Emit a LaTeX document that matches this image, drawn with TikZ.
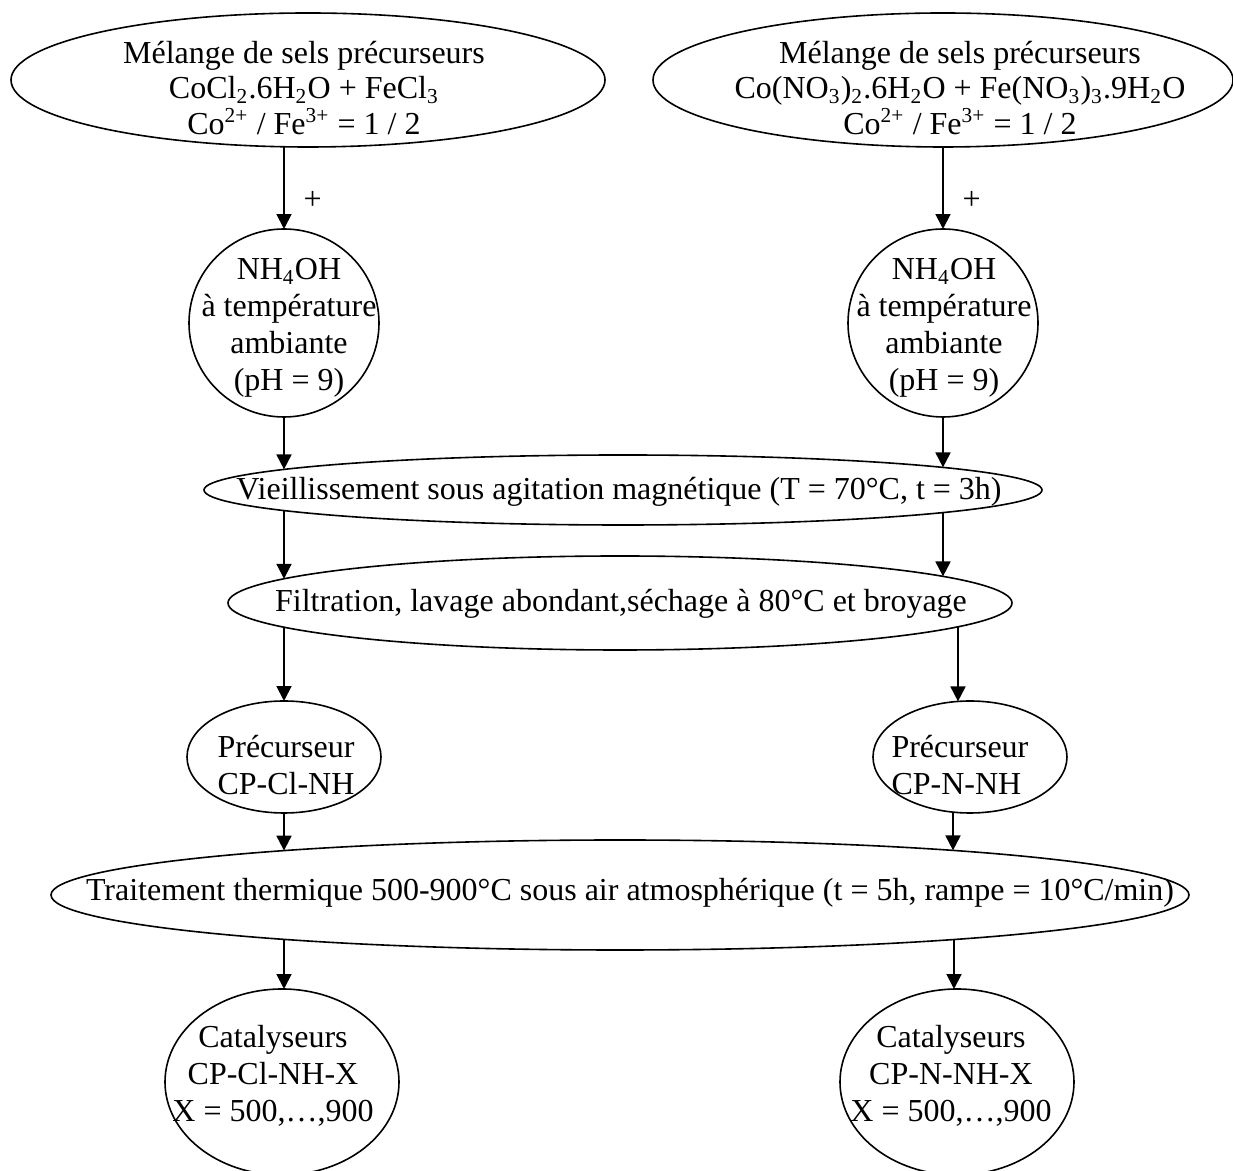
\documentclass[tikz,border=0pt]{standalone}
\usepackage{fontspec}
\setmainfont{Liberation Serif}
\usetikzlibrary{shapes.geometric,arrows.meta,calc}
\begin{document}
\begin{tikzpicture}[x=0.375pt,y=-0.375pt,
  shapeell/.style={draw, ellipse, line width=0.6pt, inner sep=0pt, outer sep=0pt},
  rad/.style 2 args={minimum width=#1*0.75pt, minimum height=#2*0.75pt},
  txt/.style={align=center, inner sep=0pt, font=\fontsize{12}{13.9}\selectfont},
  txttop/.style={align=center, inner sep=0pt, font=\fontsize{12}{13.2}\selectfont},
  arr/.style={line width=0.75pt, -{Triangle[length=5.6pt,width=5.6pt]}},
  plus/.style={inner sep=0pt, font=\fontsize{12}{13.9}\selectfont, pos=0.65, right=7pt}
]
\useasboundingbox (0,0) rectangle (1233,1171);

% ---------- shapes ----------
\node[shapeell, rad={297}{67}] (tl) at (308,80) {};
\node[shapeell, rad={290}{67}] (tr) at (943,80) {};
\node[shapeell, rad={95}{94}] (nhL) at (284,323) {};
\node[shapeell, rad={95}{94}] (nhR) at (943,323) {};
\node[shapeell, rad={419}{35}] (vie) at (623,490) {};
\node[shapeell, rad={392}{47}] (filt) at (620,603) {};
\node[shapeell, rad={97}{56}] (precL) at (284,757) {};
\node[shapeell, rad={97}{56}] (precR) at (970,757) {};
\node[shapeell, rad={569}{55}] (trait) at (620,895) {};
\node[shapeell, rad={117}{93}] (catL) at (282,1082) {};
\node[shapeell, rad={117}{93}] (catR) at (957,1082) {};

% ---------- texts ----------
\node[txttop] (tl-t) at (304,88) {Mélange de sels précurseurs\\CoCl\textsubscript{2}.6H\textsubscript{2}O + FeCl\textsubscript{3}\\Co\textsuperscript{2+} / Fe\textsuperscript{3+} = 1 / 2};
\node[txttop] (tr-t) at (960,88) {Mélange de sels précurseurs\\Co(NO\textsubscript{3})\textsubscript{2}.6H\textsubscript{2}O + Fe(NO\textsubscript{3})\textsubscript{3}.9H\textsubscript{2}O\\Co\textsuperscript{2+} / Fe\textsuperscript{3+} = 1 / 2};
\node[txt] (nhL-t) at (289,328) {NH\textsubscript{4}OH\\à température\\ambiante\\(pH = 9)};
\node[txt] (nhR-t) at (944,328) {NH\textsubscript{4}OH\\à température\\ambiante\\(pH = 9)};
\node[txt] (vie-t) at (619,492) {Vieillissement sous agitation magnétique (T = 70°C, t = 3h)};
\node[txt] (filt-t) at (621,604) {Filtration, lavage abondant,séchage à 80°C et broyage};
\node[txt] (precL-t) at (286,765) {Précurseur\\CP-Cl-NH};
\node[txt, anchor=west, align=left] (precR-t) at (891,765) {Précurseur\\CP-N-NH};
\node[txt] (trait-t) at (630,893) {Traitement thermique 500-900°C sous air atmosphérique (t = 5h, rampe = 10°C/min)};
\node[txt] (catL-t) at (273,1076) {Catalyseurs\\CP-Cl-NH-X\\X = 500,…,900};
\node[txt] (catR-t) at (951,1076) {Catalyseurs\\CP-N-NH-X\\X = 500,…,900};

% ---------- connectors (points on the ellipse outlines, relative to node centres) ----------
\draw[arr] ($(tl.center)+(-24,66.8)$) -- node[plus] (plusL) {+} (nhL.north);
\draw[arr] (tr.south) -- node[plus] (plusR) {+} (nhR.north);
\draw[arr] (nhL.south) -- ($(vie.center)+(-339,-20.6)$);
\draw[arr] (nhR.south) -- ($(vie.center)+(320,-22.6)$);
\draw[arr] ($(vie.center)+(-339,20.6)$) -- ($(filt.center)+(-336,-24.2)$);
\draw[arr] ($(vie.center)+(320,22.6)$) -- ($(filt.center)+(323,-26.6)$);
\draw[arr] ($(filt.center)+(-336,24.2)$) -- (precL.north);
\draw[arr] ($(filt.center)+(338,23.8)$) -- ($(precR.center)+(-12,-55.6)$);
\draw[arr] (precL.south) -- ($(trait.center)+(-336,-44.4)$);
\draw[arr] ($(precR.center)+(-17,55.1)$) -- ($(trait.center)+(333,-44.6)$);
\draw[arr] ($(trait.center)+(-336,44.4)$) -- ($(catL.center)+(2,-93)$);
\draw[arr] ($(trait.center)+(334,44.5)$) -- ($(catR.center)+(-3,-93)$);
\end{tikzpicture}
\end{document}
